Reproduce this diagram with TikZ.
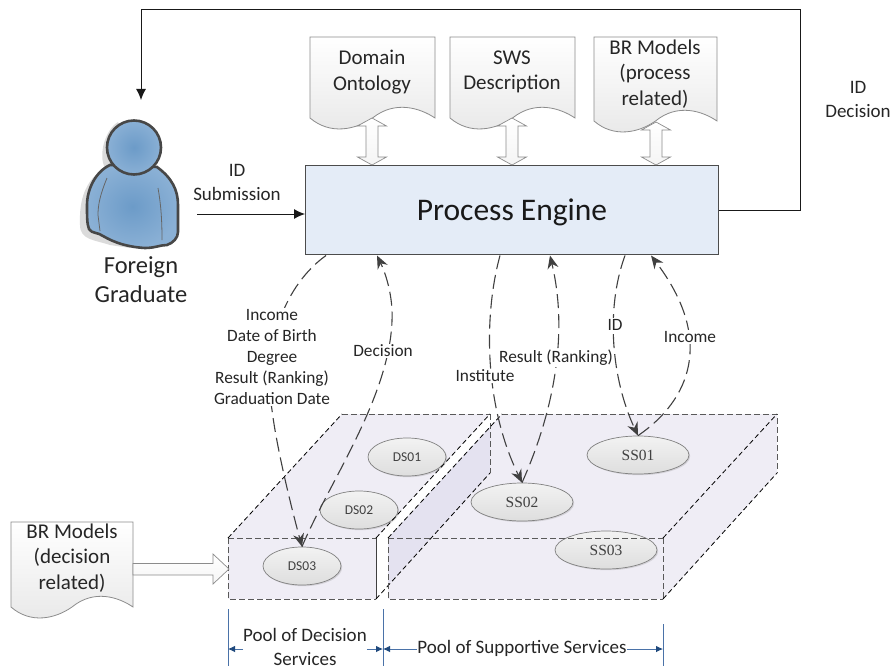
\documentclass[tikz,border=0pt]{standalone}
\usepackage{fontspec}
\setmainfont{Carlito}
\newfontfamily\tnr{Liberation Serif}
\usetikzlibrary{arrows.meta,shapes.geometric,shadows,calc}
\definecolor{poolfill}{HTML}{EFEDF5}
\definecolor{pooldark}{HTML}{E4E2F0}
\definecolor{pefill}{HTML}{E4ECF7}
\definecolor{dimblue}{HTML}{4A72A8}
\definecolor{dimtip}{HTML}{1F497D}
\definecolor{txt}{HTML}{262626}
\definecolor{docline}{HTML}{8C8C8C}
\definecolor{personin}{HTML}{6C9BC8}
\definecolor{personout}{HTML}{8AB0D5}
\tikzset{
  lbl/.style={text=txt,font=\fontsize{19}{24}\selectfont,inner sep=0pt,align=center},
  smalllbl/.style={lbl,font=\fontsize{17.3}{21}\selectfont,fill=white,inner sep=1pt},
  doctext/.style={lbl,font=\fontsize{21}{25.5}\selectfont},
  docshape/.style={draw=docline,line width=.8pt,top color=white,bottom color=black!9},
  blockarrow/.style={draw=docline,line width=.7pt,top color=white,bottom color=black!4},
  conn/.style={draw=black!90,line width=1pt,-{Latex[length=11pt,width=10pt]}},
  dashconn/.style={draw=black!75,line width=1.1pt,dash pattern=on 14pt off 6pt},
  dashtip/.style={dashconn,-{Stealth[length=13pt,width=11pt,color=black!75,fill=black!75]}},
  dsell/.style={ellipse,draw=black!50,line width=.7pt,top color=white!95!black,bottom color=black!13,
     minimum width=78pt,minimum height=38pt,inner sep=0pt,text=black!75,font=\fontsize{13.5}{14}\selectfont,
     drop shadow={shadow xshift=1.2pt,shadow yshift=-1.2pt,opacity=.25}},
  ssell/.style={dsell,minimum width=102pt,font=\tnr\fontsize{15.5}{16}\selectfont},
  frontedge/.style={draw=black!65,line width=1pt,dash pattern=on 6pt off 3pt},
  diagedge/.style={draw=black,line width=.8pt,dash pattern=on 5pt off 3pt},
  dimline/.style={draw=dimblue,line width=.8pt},
  dimarrow/.style={draw=dimblue,line width=.8pt,-{Latex[length=7pt,width=6.5pt,dimtip]}},
  persona/.style={draw=black!72,line width=2.6pt,inner color=personin,outer color=personout},
}
% wavy document: x-left, y-top, x-right, y of lower corners
\newcommand{\docpath}[4]{%
  \pgfmathsetmacro{\wq}{(#3-#1)}%
  \shade[docshape] (#1,#2) -- (#3,#2) -- (#3,#4)
    .. controls ($(#3,#4)+(-0.12*\wq,-10)$) and ($(#3,#4)+(-0.32*\wq,-18)$) .. ($(#1,#4)+(0.5*\wq,0)$)
    .. controls ($(#1,#4)+(0.36*\wq,12)$) and ($(#1,#4)+(0.16*\wq,17)$) .. (#1,#4) -- cycle;}
% vertical block arrow between two named points: double headed
\newcommand{\vblock}[2]{%
  \shade[blockarrow] let \p1=(#1),\p2=(#2) in
    (\x1,\y1) -- (\x1+14.5pt,\y1-8pt) -- (\x1+6pt,\y1-8pt) -- (\x1+6pt,\y2+8pt) -- (\x1+14.5pt,\y2+8pt)
    -- (\x1,\y2) -- (\x1-14.5pt,\y2+8pt) -- (\x1-6pt,\y2+8pt) -- (\x1-6pt,\y1-8pt) -- (\x1-14.5pt,\y1-8pt) -- cycle;}
\begin{document}
\begin{tikzpicture}[x=1pt,y=-1pt]
\useasboundingbox (0,0) rectangle (893,666);
\fill[white] (0,0) rectangle (893,666);

% pools
\fill[poolfill] (228,538) -- (376,538) -- (490,414) -- (342,414) -- cycle;
\fill[poolfill] (228,538) rectangle (376,599);
\fill[poolfill] (388,538) -- (663,538) -- (777,414) -- (502,414) -- cycle;
\fill[poolfill] (388,538) rectangle (663,599);
\fill[poolfill] (663,538) -- (777,414) -- (777,473) -- (663,599) -- cycle;
\fill[pooldark] (388,538) -- (490,427) -- (490,473) -- (388,585) -- cycle;

% service ellipses
\node[dsell] (ds01) at (407,457) {DS01};
\node[dsell] (ds02) at (359,510) {DS02};
\node[dsell] (ds03) at (302,566) {DS03};
\node[ssell] (ss01) at (638,455) {SS01};
\node[ssell] (ss02) at (522,502) {SS02};
\node[ssell] (ss03) at (606,550) {SS03};

% pool edges
\draw[frontedge] (228,538) -- (376,538);
\draw[frontedge] (228,538) -- (228,599) -- (376,599);
\draw[draw=black!75,line width=.9pt] (376,538) -- (376,599);
\draw[frontedge] (342,414) -- (490,414);
\draw[frontedge] (490,414) -- (490,473);
\draw[diagedge] (228,538) -- (342,414);
\draw[diagedge] (376,538) -- (490,414);
\draw[diagedge] (376,599) -- (490,473);
\draw[frontedge] (388,538) -- (663,538);
\draw[frontedge] (388,538) -- (388,599) -- (663,599);
\draw[frontedge] (663,538) -- (663,599);
\draw[frontedge] (502,414) -- (777,414) -- (777,473);
\draw[diagedge] (388,538) -- (502,414);
\draw[diagedge] (663,538) -- (777,414);
\draw[diagedge] (663,599) -- (777,473);

% process engine
\node[draw=black!70,line width=1pt,fill=pefill,minimum width=413pt,minimum height=89pt,inner sep=0pt,
      font=\fontsize{31.5}{32}\selectfont,text=black!90,text depth=0pt] (pe) at (512,210) {Process Engine};

% documents
\docpath{310}{37}{435}{118}
\node[doctext] (doc1) at (372,72) {Domain\\Ontology};
\docpath{450}{37}{575}{118}
\node[doctext] (doc2) at (512,72) {SWS\\Description};
\docpath{594}{37}{717}{121}
\node[doctext] (doc3) at (655,74) {BR Models\\(process\\related)};
\docpath{11}{522}{133}{607}
\node[doctext] (doc4) at (72,558) {BR Models\\(decision\\related)};

% block arrows to the engine
\coordinate (a1t) at (372,118); \coordinate (a1b) at (372,165);
\coordinate (a2t) at (512,118); \coordinate (a2b) at (512,165);
\coordinate (a3t) at (656,122); \coordinate (a3b) at (656,165);
\vblock{a1t}{a1b}
\vblock{a2t}{a2b}
\vblock{a3t}{a3b}
\shade[blockarrow] (133,563.5) -- (213,563.5) -- (213,554) -- (229,569) -- (213,584) -- (213,575) -- (133,575) -- cycle;

% person
\coordinate (person) at (134,185);
\fill[black!14] (105,168) .. controls (85,180) and (79,200) .. (80,225) .. controls (80,240) and (95,240) .. (110,245) -- (130,248) -- (130,150) -- (118,122) .. controls (105,130) and (98,155) .. (105,168) -- cycle;
\shade[persona]
  (110,165) .. controls (95,172) and (87,190) .. (87,205)
  .. controls (87,217) and (87,224) .. (89,229) .. controls (92,234) and (98,232) .. (103,236)
  .. controls (115,243) and (128,247) .. (145,248) .. controls (155,248) and (160,245) .. (167,245)
  .. controls (173,243) and (178,238) .. (178,232) -- (178,205)
  .. controls (178,190) and (172,178) .. (157,167) -- cycle;
\shade[persona] (134,147.5) circle (27);
\draw[black!60,line width=.8pt] (107,178) .. controls (100,195) and (98,205) .. (98,215) -- (100,231);
\draw[black!60,line width=.8pt] (158,188) .. controls (161,205) and (162,220) .. (162,240);
\node[lbl,font=\fontsize{24.5}{29}\selectfont] (fg) at (141,280) {Foreign\\Graduate};

% feedback and submission
\coordinate (subin) at (197,214);
\coordinate (fbtop) at (141,100);
\draw[conn] (pe.east) -- (800,210) -- (800,10) -- (141,10) -- (fbtop);
\draw[conn] (subin) -- (subin -| pe.west);
\node[lbl] (idsub) at (237,182) {ID\\Submission};
\node[lbl] (iddec) at (858,99) {ID\\Decision};

% service calls
\coordinate (p1) at (326,255.5); \coordinate (p2) at (377,255.5);
\coordinate (p3) at (500,255.5); \coordinate (p4) at (550,255.5);
\coordinate (p5) at (625,255.5); \coordinate (p6) at (651,255.5);
\draw[dashtip] (p1) .. controls (285,285) and (262,345) .. (272,410) .. controls (277,450) and (292,510) .. (ds03.north);
\draw[dashtip] (ds03.north) .. controls (330,480) and (395,390) .. (392,310) .. controls (391,290) and (385,272) .. (p2);
\draw[dashtip] (p3) .. controls (485,310) and (482,400) .. (ss02.north);
\draw[dashtip] (ss02.north) .. controls (550,420) and (570,340) .. (p4);
\draw[dashtip] (p5) .. controls (605,310) and (612,380) .. (ss01.north);
\draw[dashtip] (ss01.north) .. controls (690,400) and (715,340) .. (p6);

\node[smalllbl] (l1) at (272,357) {Income\\Date of Birth\\Degree\\Result (Ranking)\\Graduation Date};
\node[smalllbl] (l2) at (383,351) {Decision};
\node[smalllbl] (l3) at (485,376) {Institute};
\node[smalllbl] (l4) at (556,358) {Result (Ranking)};
\node[smalllbl] (l5) at (615,325) {ID};
\node[smalllbl] (l6) at (690,337) {Income};

% dimensions
\coordinate (d1) at (228,609); \coordinate (d2) at (383,609); \coordinate (d3) at (663,624);
\draw[dimline] (d1) -- (228,666);
\draw[dimline] (d2) -- (383,666);
\draw[dimline] (d3) -- (663,666);
\node[lbl,font=\fontsize{19}{24}\selectfont] (pd) at (305,647) {Pool of Decision\\Services};
\node[lbl] (ps) at (522,648) {Pool of Supportive Services};
\draw[dimarrow] (pd.west |- 0,649) -- (228,649);
\draw[dimarrow] (pd.east |- 0,649) -- (383,649);
\draw[dimarrow] (ps.west |- 0,649) -- (383,649);
\draw[dimarrow] (ps.east |- 0,649) -- (663,649);
\end{tikzpicture}
\end{document}
